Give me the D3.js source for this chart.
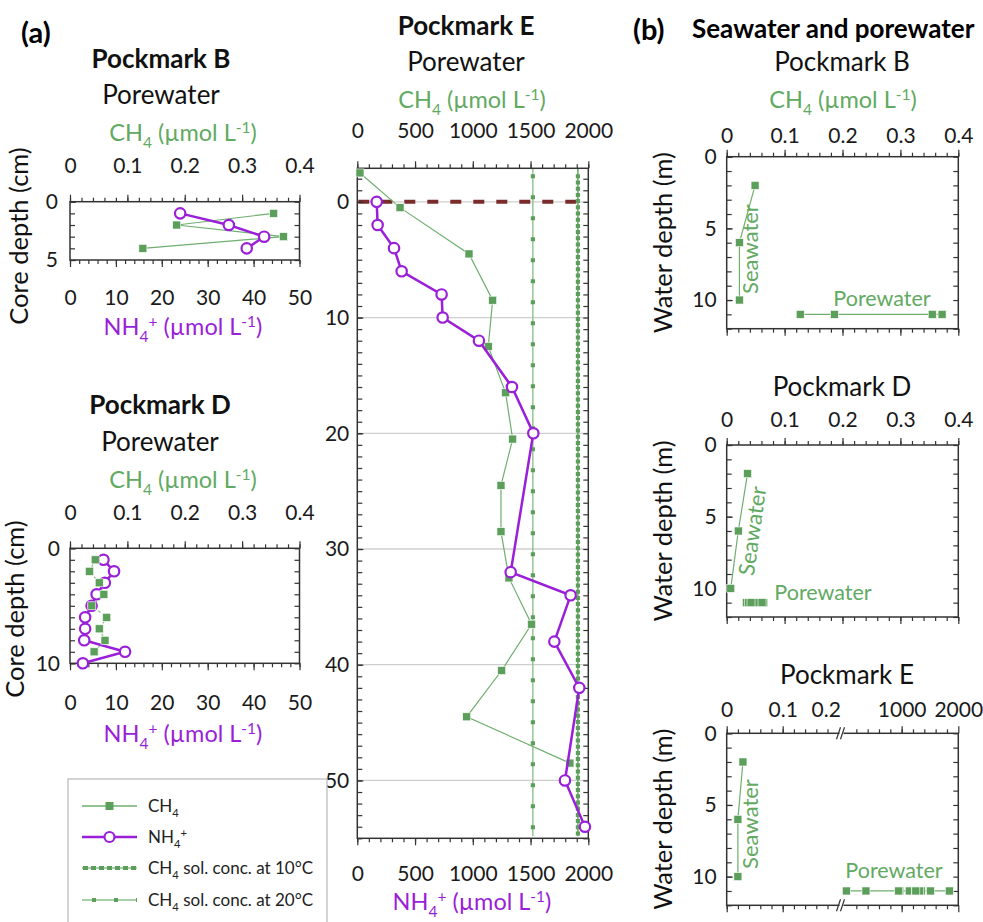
<html>
<head>
    <script src="https://d3js.org/d3.v7.min.js"></script>
    <style>
        body { margin: 0; background: #fff; }
        text { font-family: Lato, "Noto Sans", sans-serif; }
        .tick text { font-size: 21px; fill: #1a1a1a; }
        .tick line { stroke: #333; stroke-width: 1.2px; }
        .domain { display: none; }
    </style>
</head>
<body>
<svg id="fig" width="983" height="922"></svg>
<script>
    // ----- (a) porewater profiles -----
    const depthB = [1, 2, 3, 4];
    const ch4B = [0.355, 0.186, 0.372, 0.127];
    const nh4B = [24.0, 34.6, 42.3, 38.5];

    const ch4DepthD = [1, 2, 3, 4, 5, 6, 7, 8, 9];
    const ch4D = [0.044, 0.034, 0.051, 0.059, 0.038, 0.064, 0.051, 0.061, 0.042];
    const nh4DepthD = [1, 2, 3, 4, 5, 6, 7, 8, 9, 10];
    const nh4D = [7.3, 9.6, 7.6, 5.8, 4.7, 3.3, 3.3, 3.1, 12.0, 2.8];

    const ch4DepthE = [-2.5, 0.5, 4.5, 8.5, 12.5, 16.5, 20.5, 24.5, 28.5, 32.5, 36.5, 40.5, 44.5, 48.5];
    const ch4E = [23, 370, 967, 1172, 1134, 1284, 1345, 1244, 1244, 1313, 1509, 1250, 947, 1841];
    const nh4DepthE = [0, 2, 4, 6, 8, 10, 12, 16, 20, 32, 34, 38, 42, 50, 54];
    const nh4E = [168, 176, 318, 384, 730, 739, 1053, 1339, 1524, 1328, 1847, 1706, 1922, 1798, 1971];

    // CH4 solubility (umol/L)
    const sol10C = 1910;
    const sol20C = 1520;

    // ----- (b) seawater -----
    const seaDepth = [2, 6, 10];
    const seaB = [0.049, 0.022, 0.022];
    const seaD = [0.036, 0.020, 0.007];
    const seaE = [0.029, 0.020, 0.020];
    const poreDepth = 11;

    // tick labels
    const smallTicks = [0, 0.1, 0.2, 0.3, 0.4];
    const nh4SmallTicks = [0, 10, 20, 30, 40, 50];
    const bigTicks = [0, 500, 1000, 1500, 2000];
    const breakLowTicks = [0, 0.1, 0.2];
    const breakHighTicks = [1000, 2000];

    const green = "#5b9f5b";
    const greenLine = "#6fae6f";
    const greenText = "#62aa62";
    const purple = "#9a1fd8";

    const titleSize = 26, labelSize = 23.5, ySize = 25.5;

    const svg = d3.select("#fig");

    function frame(x, y) {
        svg.append("rect")
            .attr("x", x.range()[0]).attr("y", y.range()[0])
            .attr("width", x.range()[1] - x.range()[0])
            .attr("height", y.range()[1] - y.range()[0])
            .attr("fill", "none").attr("stroke", "#333").attr("stroke-width", 1.5);
    }

    function styleAxis(g) {
        g.attr("font-family", null).attr("font-size", null);
    }

    // top / bottom x axes: minor + major ticks
    function xAxis(x, y, orient, major, minorStep, spacing, labels) {
        const make = orient === "top" ? d3.axisTop : d3.axisBottom;
        const minor = d3.range(x.domain()[0], x.domain()[1] + minorStep / 2, minorStep);
        svg.append("g").attr("transform", `translate(0,${y})`)
            .call(make(x).tickValues(minor).tickSize(4).tickFormat(""))
            .call(styleAxis);
        svg.append("g").attr("transform", `translate(0,${y})`)
            .call(make(x).tickValues(major).tickSize(7).tickPadding(spacing - 7)
                .tickFormat(labels ? (d => String(d)) : ""))
            .call(styleAxis);
    }

    // left / right y axes, ticks pointing inside
    function yAxes(x, y, major, spacing) {
        const d0 = Math.ceil(y.domain()[0]);
        const minor = d3.range(d0, y.domain()[1] + 0.01, 1);
        svg.append("g").attr("transform", `translate(${x.range()[0]},0)`)
            .call(d3.axisLeft(y).tickValues(minor).tickSize(-5).tickFormat(""))
            .call(styleAxis);
        svg.append("g").attr("transform", `translate(${x.range()[0]},0)`)
            .call(d3.axisLeft(y).tickValues(major).tickSize(-6).tickPadding(spacing).tickFormat(d => String(d)))
            .call(styleAxis);
        svg.append("g").attr("transform", `translate(${x.range()[1]},0)`)
            .call(d3.axisRight(y).tickValues(minor).tickSize(-5).tickFormat(""))
            .call(styleAxis);
    }

    // text with sub/superscripts
    function rich(x, y, parts, size, color, opts = {}) {
        const t = svg.append("text").attr("x", x).attr("y", y)
            .attr("text-anchor", opts.anchor || "middle")
            .attr("font-size", size).attr("fill", color)
            .attr("font-weight", opts.bold ? "bold" : null);
        if (opts.rotate) t.attr("transform", `rotate(${opts.angle || -90},${x},${y})`);
        let shift = 0;
        parts.forEach(p => {
            const kind = Array.isArray(p) ? p[1] : "n";
            const s = Array.isArray(p) ? p[0] : p;
            const target = kind === "sub" ? 0.3 : kind === "sup" ? -0.36 : 0;
            t.append("tspan").text(s)
                .attr("font-size", kind === "n" ? size : size * 0.66)
                .attr("dy", ((target - shift) * size).toFixed(2));
            shift = target;
        });
        return t;
    }

    const ch4Label = ["CH", ["4", "sub"], " (µmol L", ["-1", "sup"], ")"];
    const nh4Label = ["NH", ["4", "sub"], ["+", "sup"], " (µmol L", ["-1", "sup"], ")"];

    function squares(x, y, pts) {
        svg.append("g").selectAll("rect").data(pts).join("rect")
            .attr("x", d => x(d[1]) - 4).attr("y", d => y(d[0]) - 4)
            .attr("width", 8).attr("height", 8)
            .attr("fill", green).attr("stroke", "#fff").attr("stroke-width", 0.6);
    }

    function ch4Series(x, y, depths, vals, opts = {}) {
        const pts = d3.zip(depths, vals);
        svg.append("path").datum(pts)
            .attr("d", d3.line().x(d => x(d[1])).y(d => y(d[0])))
            .attr("fill", "none").attr("stroke", greenLine)
            .attr("stroke-width", 1.2)
            .attr("stroke-dasharray", opts.dash || null)
            .attr("opacity", opts.faint ? 0.75 : 1);
        squares(x, y, pts);
    }

    function nh4Series(x, y, depths, vals) {
        const pts = d3.zip(depths, vals);
        svg.append("path").datum(pts)
            .attr("d", d3.line().x(d => x(d[1])).y(d => y(d[0])))
            .attr("fill", "none").attr("stroke", purple).attr("stroke-width", 2.5);
        svg.append("g").selectAll("circle").data(pts).join("circle")
            .attr("cx", d => x(d[1])).attr("cy", d => y(d[0])).attr("r", 5.2)
            .attr("fill", "#fff").attr("stroke", purple).attr("stroke-width", 2.2);
    }

    // ================= (a) =================
    svg.append("text").attr("x", 21).attr("y", 43).attr("font-size", 29)
        .attr("font-weight", "bold").text("(a)");

    // --- Pockmark B ---
    const xBc = d3.scaleLinear().domain([0, 0.4]).range([70, 299.5]);
    const xBn = d3.scaleLinear().domain([0, 50]).range([70, 299.5]);
    const yB = d3.scaleLinear().domain([0, 5]).range([201.7, 260]);
    rich(161, 68, ["Pockmark B"], titleSize, "#111", { bold: true });
    rich(161, 104, ["Porewater"], titleSize, "#111");
    rich(183, 141, ch4Label, labelSize, greenText);
    xAxis(xBc, 201.7, "top", smallTicks, 0.02, 29, true);
    xAxis(xBn, 260, "bottom", nh4SmallTicks, 2, 30, true);
    yAxes(xBc, yB, [0, 5], 12);
    frame(xBc, yB);
    ch4Series(xBc, yB, depthB, ch4B);
    nh4Series(xBn, yB, depthB, nh4B);
    rich(183, 335, nh4Label, labelSize, purple);
    rich(28, 236, ["Core depth (cm)"], ySize, "#111", { rotate: true });

    // --- Pockmark D ---
    const yD = d3.scaleLinear().domain([0, 10]).range([548.3, 663.3]);
    rich(160, 414, ["Pockmark D"], titleSize, "#111", { bold: true });
    rich(160, 451, ["Porewater"], titleSize, "#111");
    rich(183, 488, ch4Label, labelSize, greenText);
    xAxis(xBc, 548.3, "top", smallTicks, 0.02, 28, true);
    xAxis(xBn, 663.3, "bottom", nh4SmallTicks, 2, 32, true);
    yAxes(xBc, yD, [0, 10], 10);
    frame(xBc, yD);
    ch4Series(xBc, yD, ch4DepthD, ch4D, { dash: "3,2", faint: true });
    nh4Series(xBn, yD, nh4DepthD, nh4D);
    // squares sit above the circles in this panel
    squares(xBc, yD, d3.zip(ch4DepthD, ch4D));
    rich(183, 742, nh4Label, labelSize, purple);
    rich(24, 609, ["Core depth (cm)"], ySize, "#111", { rotate: true });

    // --- Pockmark E ---
    const xE = d3.scaleLinear().domain([0, 2000]).range([357.3, 588.3]);
    const yE = d3.scaleLinear().domain([-2.9, 55]).range([168.3, 838.3]);
    rich(466, 35, ["Pockmark E"], titleSize, "#111", { bold: true });
    rich(466, 71, ["Porewater"], titleSize, "#111");
    rich(472, 108, ch4Label, labelSize, greenText);

    svg.append("g").selectAll("line").data([0, 10, 20, 30, 40, 50]).join("line")
        .attr("x1", xE.range()[0]).attr("x2", xE.range()[1])
        .attr("y1", d => yE(d)).attr("y2", d => yE(d))
        .attr("stroke", "#cfcfcf").attr("stroke-width", 1.3);
    svg.append("line")
        .attr("x1", xE.range()[0] + 1).attr("x2", xE.range()[1])
        .attr("y1", yE(0)).attr("y2", yE(0))
        .attr("stroke", "#7a2c2c").attr("stroke-width", 4)
        .attr("stroke-dasharray", "11,12");

    xAxis(xE, 168.3, "top", bigTicks, 100, 30, true);
    xAxis(xE, 838.3, "bottom", bigTicks, 100, 28, true);
    yAxes(xE, yE, [0, 10, 20, 30, 40, 50], 8);

    // solubility lines
    [[sol20C, "#8cc28c", "4,17"], [sol10C, "#5b9f5b", "4,2.2"]].forEach(([v, c, dash]) => {
        svg.append("line").attr("x1", xE(v)).attr("x2", xE(v))
            .attr("y1", yE.range()[0]).attr("y2", yE.range()[1] - 2)
            .attr("stroke", c).attr("stroke-width", 1.4);
        svg.append("line").attr("x1", xE(v)).attr("x2", xE(v))
            .attr("y1", yE.range()[0] + 6).attr("y2", yE.range()[1] - 2)
            .attr("stroke", green).attr("stroke-width", 4.2)
            .attr("stroke-dasharray", dash);
    });
    frame(xE, yE);
    ch4Series(xE, yE, ch4DepthE, ch4E);
    nh4Series(xE, yE, nh4DepthE, nh4E);
    rich(472, 910, nh4Label, labelSize, purple);

    // legend
    svg.append("rect").attr("x", 68).attr("y", 779).attr("width", 259).attr("height", 160)
        .attr("fill", "#fff").attr("stroke", "#bdbdbd").attr("stroke-width", 1.3);
    const lx0 = 82, lx1 = 137, lxm = (lx0 + lx1) / 2;
    const legY = [806, 837, 868, 900];
    svg.append("line").attr("x1", lx0).attr("x2", lx1).attr("y1", legY[0]).attr("y2", legY[0])
        .attr("stroke", greenLine).attr("stroke-width", 1.3);
    svg.append("rect").attr("x", lxm - 4).attr("y", legY[0] - 4).attr("width", 8).attr("height", 8)
        .attr("fill", green);
    svg.append("line").attr("x1", lx0).attr("x2", lx1).attr("y1", legY[1]).attr("y2", legY[1])
        .attr("stroke", purple).attr("stroke-width", 2.5);
    svg.append("circle").attr("cx", lxm).attr("cy", legY[1]).attr("r", 5)
        .attr("fill", "#fff").attr("stroke", purple).attr("stroke-width", 2.2);
    svg.append("line").attr("x1", lx0).attr("x2", lx1).attr("y1", legY[2]).attr("y2", legY[2])
        .attr("stroke", "#8cc28c").attr("stroke-width", 1.3);
    svg.append("line").attr("x1", lx0 + 1).attr("x2", lx1).attr("y1", legY[2]).attr("y2", legY[2])
        .attr("stroke", green).attr("stroke-width", 4).attr("stroke-dasharray", "5,3");
    svg.append("line").attr("x1", lx0).attr("x2", lx1).attr("y1", legY[3]).attr("y2", legY[3])
        .attr("stroke", "#8cc28c").attr("stroke-width", 1.3);
    svg.append("line").attr("x1", lx0 + 10).attr("x2", lx1).attr("y1", legY[3]).attr("y2", legY[3])
        .attr("stroke", green).attr("stroke-width", 4).attr("stroke-dasharray", "4,18");
    const legLabels = [
        ["CH", ["4", "sub"]],
        ["NH", ["4", "sub"], ["+", "sup"]],
        ["CH", ["4", "sub"], " sol. conc. at 10°C"],
        ["CH", ["4", "sub"], " sol. conc. at 20°C"]
    ];
    legLabels.forEach((p, i) => rich(148, legY[i] + 6, p, 17, "#222", { anchor: "start" }));

    // ================= (b) =================
    svg.append("text").attr("x", 633).attr("y", 40).attr("font-size", 29)
        .attr("font-weight", "bold").text("(b)");
    svg.append("text").attr("x", 692).attr("y", 38).attr("font-size", 26)
        .attr("font-weight", "bold").text("Seawater and porewater");

    const xb = d3.scaleLinear().domain([0, 0.4]).range([726.7, 958.3]);
    const panelsB = [
        { name: "Pockmark B", top: 156.7, sea: seaB, pore: ch4B, titleY: 71, sp: 14, tx: 842,
          seaX: 758, seaY: 249, seaAngle: -90, poreX: 882, poreY: 306 },
        { name: "Pockmark D", top: 445, sea: seaD, pore: ch4D, titleY: 396, sp: 18, tx: 842,
          seaX: 760, seaY: 532, seaAngle: -82, poreX: 823, poreY: 600 },
        { name: "Pockmark E", top: 733.3, sea: seaE, pore: ch4E, titleY: 684, sp: 16, tx: 847,
          seaX: 758, seaY: 824, seaAngle: -90, poreX: 894, poreY: 878 }
    ];

    panelsB.forEach((p, i) => {
        const y = d3.scaleLinear().domain([0, 12]).range([p.top, p.top + 172]);
        rich(p.tx, p.titleY, [p.name], titleSize, "#111");
        if (i === 0) rich(843, 108, ch4Label, labelSize, greenText);
        rich(672, (p.top + p.top + 172) / 2, ["Water depth (m)"], ySize, "#111", { rotate: true });

        let xSea = xb, xPore = xb;
        if (i < 2) {
            xAxis(xb, p.top, "top", smallTicks, 0.02, p.sp, true);
            xAxis(xb, p.top + 172, "bottom", smallTicks, 0.02, 10, false);
        } else {
            // broken axis: 0-0.2 | 0-2000
            const xL = d3.scaleLinear().domain([0, 0.2]).range([726.7, 838.7]);
            const xR = d3.scaleLinear().domain([0, 2000]).range([845, 958.3]);
            xSea = xL; xPore = xR;
            [["top", p.top], ["bottom", p.top + 172]].forEach(([o, yy]) => {
                const make = o === "top" ? d3.axisTop : d3.axisBottom;
                svg.append("g").attr("transform", `translate(0,${yy})`)
                    .call(make(xL).tickValues(d3.range(0, 0.19, 0.02)).tickSize(4).tickFormat(""))
                    .call(styleAxis);
                svg.append("g").attr("transform", `translate(0,${yy})`)
                    .call(make(xR).tickValues(d3.range(200, 1900, 200)).tickSize(4).tickFormat(""))
                    .call(styleAxis);
                svg.append("g").attr("transform", `translate(0,${yy})`)
                    .call(make(xR).tickValues(breakHighTicks).tickSize(7).tickPadding(p.sp - 7)
                        .tickFormat(o === "top" ? (d => String(d)) : ""))
                    .call(styleAxis);
                const gl = svg.append("g").attr("transform", `translate(0,${yy})`)
                    .call(make(xL).tickValues(breakLowTicks).tickSize(7).tickPadding(p.sp - 7)
                        .tickFormat(o === "top" ? (d => String(d)) : ""))
                    .call(styleAxis);
                // the "0.2" label sits left of the break
                gl.selectAll(".tick text").filter(d => d === 0.2).attr("dx", -13);
                gl.selectAll(".tick line").filter(d => d === 0.2).remove();
            });
        }
        yAxes(xb, y, [0, 5, 10], 10);
        frame(xb, y);

        if (i === 2) {
            // break marks
            [p.top, p.top + 172].forEach(yy => {
                svg.append("rect").attr("x", 839.5).attr("y", yy - 2).attr("width", 4).attr("height", 4)
                    .attr("fill", "#fff");
                [838.5, 842.5].forEach(bx => {
                    svg.append("line").attr("x1", bx - 2).attr("x2", bx + 2)
                        .attr("y1", yy + 6).attr("y2", yy - 6)
                        .attr("stroke", "#333").attr("stroke-width", 1.2);
                });
            });
        }

        ch4Series(xSea, y, seaDepth, p.sea);
        ch4Series(xPore, y, p.pore.map(() => poreDepth), p.pore);

        rich(p.seaX, p.seaY, ["Seawater"], 22, greenText, { rotate: true, angle: p.seaAngle });
        rich(p.poreX, p.poreY, ["Porewater"], 21.5, greenText);
    });
</script>
</body>
</html>
